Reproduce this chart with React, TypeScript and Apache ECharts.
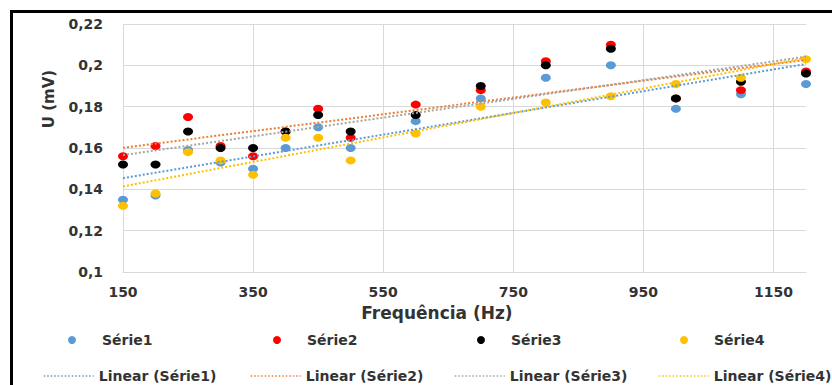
import React, { useEffect, useRef } from "react";
import * as echarts from "echarts";

const frequencies = [150, 200, 250, 300, 350, 400, 450, 500, 600, 700, 800, 900, 1000, 1100, 1200];
const serie1 = [0.135, 0.137, 0.159, 0.153, 0.150, 0.160, 0.170, 0.160, 0.173, 0.184, 0.194, 0.200, 0.179, 0.186, 0.191];
const serie2 = [0.156, 0.161, 0.175, 0.161, 0.156, 0.168, 0.179, 0.165, 0.181, 0.188, 0.202, 0.210, 0.184, 0.188, 0.197];
const serie3 = [0.152, 0.152, 0.168, 0.160, 0.160, 0.168, 0.176, 0.168, 0.176, 0.190, 0.200, 0.208, 0.184, 0.192, 0.196];
const serie4 = [0.132, 0.138, 0.158, 0.154, 0.147, 0.165, 0.165, 0.154, 0.167, 0.180, 0.182, 0.185, 0.191, 0.194, 0.203];
const seriesNames = ["Série1", "Série2", "Série3", "Série4"];
const xTickLabels = [150, 350, 550, 750, 950, 1150];

const markerColors = ["#5B9BD5", "#FF0000", "#000000", "#FFC000"];
const trendColors = ["#5B9BD5", "#ED7D31", "#A5A5A5", "#FFC000"];

function linearFit(xs: number[], ys: number[]) {
  const n = xs.length;
  const mx = xs.reduce((a, b) => a + b, 0) / n;
  const my = ys.reduce((a, b) => a + b, 0) / n;
  let sxy = 0;
  let sxx = 0;
  for (let i = 0; i < n; i++) {
    sxy += (xs[i] - mx) * (ys[i] - my);
    sxx += (xs[i] - mx) * (xs[i] - mx);
  }
  const b = sxy / sxx;
  const a = my - b * mx;
  const x0 = xs[0];
  const x1 = xs[n - 1];
  return [
    [x0, a + b * x0],
    [x1, a + b * x1],
  ];
}

export default function App() {
  const ref = useRef<HTMLDivElement>(null);
  useEffect(() => {
    if (!ref.current) return;
    const chart = echarts.init(ref.current, undefined, { renderer: "svg" });
    const all = [serie1, serie2, serie3, serie4];
    const font = "DejaVu Sans";
    const textColor = "#333333";

    const scatterSeries = all.map((vals, i) => ({
      type: "scatter",
      name: seriesNames[i],
      data: frequencies.map((f, j) => [f, vals[j]]),
      symbol: "circle",
      symbolSize: [10, 8],
      itemStyle: { color: markerColors[i], opacity: 1 },
      z: 2,
    }));
    const trendSeries = all.map((vals, i) => ({
      type: "line",
      name: "Linear (" + seriesNames[i] + ")",
      data: linearFit(frequencies, vals),
      symbol: "none",
      showSymbol: false,
      lineStyle: { color: trendColors[i], width: 2, type: [2, 2] },
      itemStyle: { color: trendColors[i] },
      z: 3,
    }));

    const row1Text = [100, 305, 509, 712];
    const row2Text = [98, 305, 509, 713];
    const legends: any[] = [];
    seriesNames.forEach((n, i) => {
      legends.push({
        data: [n],
        left: row1Text[i] - 32,
        top: 333,
        padding: 0,
        itemWidth: 50,
        itemHeight: 8,
        icon: "circle",
        selectedMode: false,
        textStyle: { fontFamily: font, fontWeight: "bold", fontSize: 14, color: textColor },
      });
      legends.push({
        data: ["Linear (" + n + ")"],
        left: row2Text[i] - 55,
        top: 369,
        padding: 0,
        itemWidth: 50,
        itemHeight: 14,
        selectedMode: false,
        itemStyle: { color: "rgba(0,0,0,0)", opacity: 0, borderWidth: 0 },
        lineStyle: { width: 1.5, type: [1.5, 2] },
        textStyle: { fontFamily: font, fontWeight: "bold", fontSize: 14, color: textColor },
      });
    });

    chart.setOption({
      animation: false,
      backgroundColor: "#ffffff",
      grid: { left: 123, right: 26, top: 24, bottom: 113, containLabel: false },
      xAxis: {
        type: "value",
        min: 150,
        max: 1200,
        axisLine: { show: true, lineStyle: { color: "#D9D9D9", width: 1 } },
        axisTick: { show: false, customValues: xTickLabels },
        splitLine: { show: true, lineStyle: { color: "#D9D9D9", width: 1 } },
        axisLabel: {
          customValues: xTickLabels,
          margin: 13,
          fontFamily: font,
          fontWeight: "bold",
          fontSize: 14,
          color: textColor,
          formatter: (v: number) => String(v),
        },
      },
      yAxis: {
        type: "value",
        min: 0.1,
        max: 0.22,
        interval: 0.02,
        axisLine: { show: false },
        axisTick: { show: false },
        splitLine: { show: true, lineStyle: { color: "#D9D9D9", width: 1 } },
        axisLabel: {
          margin: 20,
          fontFamily: font,
          fontWeight: "bold",
          fontSize: 14,
          color: textColor,
          formatter: (v: number) => String(+v.toFixed(2)).replace(".", ","),
        },
      },
      legend: legends,
      graphic: [
        { type: "rect", left: 10, top: 10, shape: { width: 822, height: 3 }, style: { fill: "#000" } },
        { type: "rect", left: 10, top: 10, shape: { width: 3, height: 375 }, style: { fill: "#000" } },
        {
          type: "text",
          x: 437,
          y: 313,
          style: {
            text: "Frequência (Hz)",
            align: "center",
            verticalAlign: "middle",
            fontFamily: font,
            fontWeight: "bold",
            fontSize: 17,
            fill: textColor,
          },
        },
        {
          type: "text",
          x: 49,
          y: 99,
          rotation: Math.PI / 2,
          style: {
            text: "U (mV)",
            align: "center",
            verticalAlign: "middle",
            fontFamily: font,
            fontWeight: "bold",
            fontSize: 15,
            fill: textColor,
          },
        },
      ],
      series: [...scatterSeries, ...trendSeries],
    } as any);
    return () => chart.dispose();
  }, []);
  return (
    <div
      ref={ref}
      style={{ position: "fixed", left: 0, top: 0, width: 832, height: 385, background: "#fff" }}
    />
  );
}
